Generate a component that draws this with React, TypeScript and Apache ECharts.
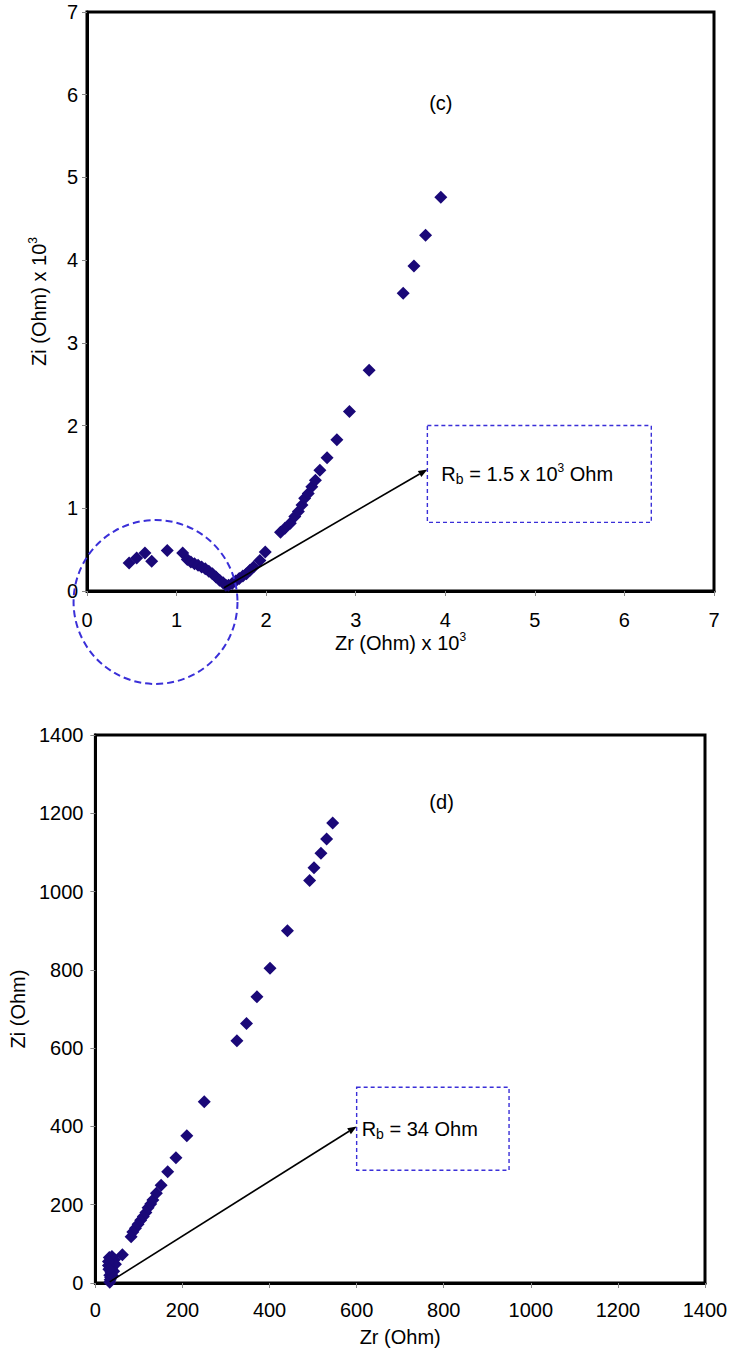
import React, { useEffect, useRef } from "react";
import * as echarts from "echarts";

// Panel (c): Zr and Zi in Ohm x 10^3
const cZr = [0.47, 0.555, 0.647, 0.722, 0.896, 1.068, 1.12, 1.16, 1.2, 1.24, 1.28, 1.32, 1.36, 1.4, 1.44, 1.48, 1.52, 1.55, 1.58, 1.62, 1.66, 1.7, 1.74, 1.78, 1.82, 1.86, 1.93, 1.99, 2.16, 2.21, 2.27, 2.32, 2.36, 2.4, 2.43, 2.47, 2.51, 2.55, 2.6, 2.68, 2.79, 2.93, 3.15, 3.53, 3.65, 3.78, 3.95];
const cZi = [0.34, 0.4, 0.46, 0.36, 0.49, 0.46, 0.38, 0.35, 0.33, 0.31, 0.29, 0.27, 0.24, 0.21, 0.17, 0.13, 0.1, 0.07, 0.07, 0.09, 0.12, 0.15, 0.18, 0.21, 0.25, 0.29, 0.37, 0.47, 0.71, 0.76, 0.82, 0.9, 0.96, 1.04, 1.12, 1.18, 1.26, 1.34, 1.46, 1.61, 1.83, 2.17, 2.67, 3.6, 3.93, 4.3, 4.76];

// Panel (d): Zr and Zi in Ohm
const dZr = [33, 34, 35, 33, 36, 34, 37, 35, 38, 36, 40, 38, 32, 44, 46, 42, 40, 30, 30, 31, 62, 82, 86, 92, 98, 104, 110, 116, 121, 127, 132, 140, 151, 166, 185, 210, 250, 325, 347, 371, 401, 441, 492, 502, 518, 531, 545];
const dZi = [2, 8, 14, 20, 26, 32, 38, 44, 50, 56, 62, 68, 65, 60, 48, 30, 18, 45, 55, 35, 72, 118, 130, 140, 150, 160, 170, 180, 192, 202, 212, 229, 250, 284, 320, 376, 463, 619, 663, 731, 804, 900, 1028, 1061, 1098, 1134, 1175];

const cTicks = { min: 0, max: 7, interval: 1 };
const dTicks = { min: 0, max: 1400, interval: 200 };

const cLabels = ["(c)"];
const dLabels = ["(d)"];

const FONT = "'Liberation Sans', Arial, sans-serif";
const FS = 20;
const MARK = "#1a0878";
const DASH = "#3a2fd8";

function zip(a: number[], b: number[]) {
  return a.map((v, i) => [v, b[i]]);
}

function axisBase(extra: any, margin: number) {
  return {
    type: "value",
    axisLine: { show: true, onZero: false, lineStyle: { color: "#000", width: 3 } },
    axisTick: { show: true, inside: false, length: 5, lineStyle: { color: "#888", width: 1 } },
    splitLine: { show: false },
    axisLabel: { color: "#000", fontSize: FS, fontFamily: FONT, margin, formatter: (v: number) => String(v) },
    nameTextStyle: { color: "#000", fontSize: FS, fontFamily: FONT },
    ...extra,
  };
}

export default function App() {
  const ref = useRef<HTMLDivElement>(null);
  useEffect(() => {
    if (!ref.current) return;
    const chart = echarts.init(ref.current, undefined, { renderer: "svg" });
    const supRich = {
      a: { fontSize: FS, fontFamily: FONT, color: "#000", lineHeight: 24 },
      s: { fontSize: 12, fontFamily: FONT, color: "#000", verticalAlign: "top", lineHeight: 24 },
      b: { fontSize: 14, fontFamily: FONT, color: "#000", verticalAlign: "bottom", lineHeight: 24, padding: [8, 0, 0, 0] },
    };
    chart.setOption({
      animation: false,
      grid: [
        { left: 87, top: 12, width: 627, height: 579, show: true, borderColor: "#000", borderWidth: 3, backgroundColor: "#fff" },
        { left: 94, top: 735, width: 611, height: 548, show: true, borderColor: "#000", borderWidth: 3, backgroundColor: "#fff" },
      ],
      xAxis: [
        axisBase({
          gridIndex: 0, ...cTicks,
          name: "{a|Zr (Ohm) x 10}{s|3}", nameLocation: "middle", nameGap: 38,
          nameTextStyle: { rich: supRich },
        }, 19),
        axisBase({
          gridIndex: 1, ...dTicks,
          name: "Zr (Ohm)", nameLocation: "middle", nameGap: 44,
        }, 17),
      ],
      yAxis: [
        axisBase({
          gridIndex: 0, ...cTicks,
          name: "{a|Zi (Ohm) x 10}{s|3}", nameLocation: "middle", nameGap: 36,
          nameTextStyle: { rich: supRich },
        }, 9),
        axisBase({
          gridIndex: 1, ...dTicks,
          name: "Zi (Ohm)", nameLocation: "middle", nameGap: 63,
        }, 12),
      ],
      series: [
        {
          type: "scatter", xAxisIndex: 0, yAxisIndex: 0, data: zip(cZr, cZi),
          symbol: "diamond", symbolSize: 13, itemStyle: { color: MARK, opacity: 1 }, z: 5,
        },
        {
          type: "scatter", xAxisIndex: 1, yAxisIndex: 1, data: zip(dZr, dZi),
          symbol: "diamond", symbolSize: 13, itemStyle: { color: MARK, opacity: 1 }, z: 5,
        },
      ],
    });

    const p0 = (x: number, y: number) => chart.convertToPixel({ gridIndex: 0 }, [x, y]) as number[];
    const p1 = (x: number, y: number) => chart.convertToPixel({ gridIndex: 1 }, [x, y]) as number[];

    const arrow = (a: number[], b: number[]) => {
      const ang = Math.atan2(b[1] - a[1], b[0] - a[0]);
      const L = 9, W = 3.5;
      const bx = b[0] - L * Math.cos(ang), by = b[1] - L * Math.sin(ang);
      const nx = -Math.sin(ang) * W, ny = Math.cos(ang) * W;
      return [
        { type: "line", shape: { x1: a[0], y1: a[1], x2: bx, y2: by }, style: { stroke: "#000", lineWidth: 1.6 }, z: 20 },
        { type: "polygon", shape: { points: [[b[0], b[1]], [bx + nx, by + ny], [bx - nx, by - ny]] }, style: { fill: "#000" }, z: 20 },
      ];
    };

    const cBoxA = p0(3.8, 2.0), cBoxB = p0(6.3, 0.83);
    const dBoxA = p1(600, 500), dBoxB = p1(950, 288);
    const circC = p0(0.765, -0.133);
    const circR = p0(0.765 + 0.915, 0)[0] - p0(0.765, 0)[0];
    const cTitle = p0(3.95, 5.9);
    const dTitle = p1(795, 1229);

    chart.setOption({
      graphic: [
        { type: "text", x: cTitle[0], y: cTitle[1], style: { text: cLabels[0], font: `${FS}px ${FONT}`, fill: "#000", align: "center", verticalAlign: "middle" }, z: 20 },
        { type: "text", x: dTitle[0], y: dTitle[1], style: { text: dLabels[0], font: `${FS}px ${FONT}`, fill: "#000", align: "center", verticalAlign: "middle" }, z: 20 },
        { type: "rect", shape: { x: cBoxA[0], y: cBoxA[1], width: cBoxB[0] - cBoxA[0], height: cBoxB[1] - cBoxA[1] }, style: { fill: "#fff", stroke: DASH, lineWidth: 1.4, lineDash: [4, 3] }, z: 15 },
        { type: "rect", shape: { x: dBoxA[0], y: dBoxA[1], width: dBoxB[0] - dBoxA[0], height: dBoxB[1] - dBoxA[1] }, style: { fill: "#fff", stroke: DASH, lineWidth: 1.4, lineDash: [4, 3] }, z: 15 },
        {
          type: "text", x: cBoxA[0] + 14, y: (cBoxA[1] + cBoxB[1]) / 2,
          style: { text: "{a|R}{b|b}{a| = 1.5 x 10}{s|3}{a| Ohm}", rich: supRich, verticalAlign: "middle", align: "left" }, z: 20,
        },
        {
          type: "text", x: dBoxA[0] + 5, y: (dBoxA[1] + dBoxB[1]) / 2,
          style: { text: "{a|R}{b|b}{a| = 34 Ohm}", rich: supRich, verticalAlign: "middle", align: "left" }, z: 20,
        },
        ...arrow(p0(1.53, 0.04), p0(3.8, 1.47)),
        ...arrow(p1(33, 3), p1(600, 400)),
        { type: "circle", shape: { cx: circC[0], cy: circC[1], r: circR }, style: { fill: "none", stroke: DASH, lineWidth: 2, lineDash: [7, 4] }, z: 18 },
      ],
    });

    return () => chart.dispose();
  }, []);
  return <div ref={ref} style={{ position: "fixed", left: 0, top: 0, width: 746, height: 1357, background: "#fff" }} />;
}
